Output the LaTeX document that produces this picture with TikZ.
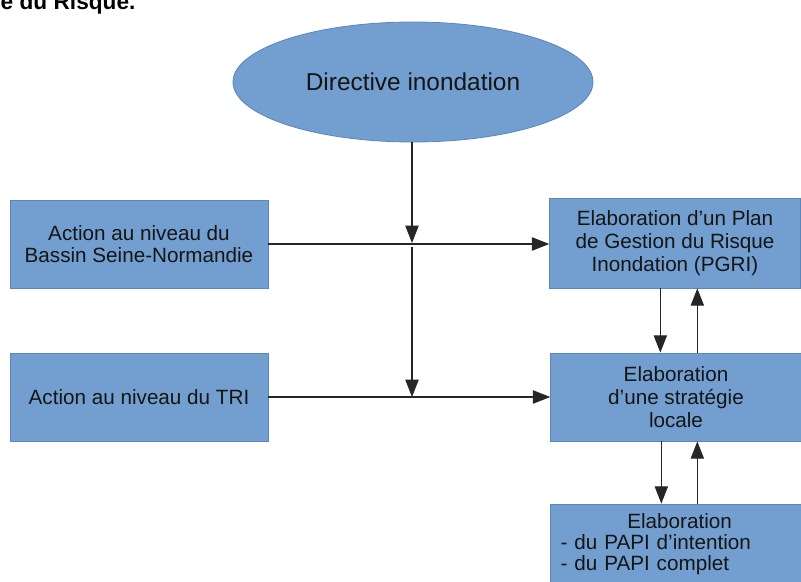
\documentclass[tikz,border=0pt]{standalone}
\usepackage{fontspec}
\setmainfont{Liberation Sans}
\usetikzlibrary{shapes.geometric,arrows.meta}
\definecolor{boxblue}{HTML}{729FCF}
\definecolor{boxline}{HTML}{5A86BE}
\definecolor{ink}{HTML}{151515}
\definecolor{wire}{HTML}{262626}
\begin{document}
\begin{tikzpicture}[x=0.75pt,y=-0.75pt,
    bloc/.style={rectangle,draw=boxline,line width=0.6pt,fill=boxblue,text=ink,
      font=\fontsize{15.5}{17}\selectfont,align=center,inner sep=0pt},
    fleche/.style={draw=wire,line width=0.8pt,-{Triangle[length=13pt,width=10pt]}},
    trait/.style={draw=wire,line width=0.8pt}]

        \useasboundingbox (0,0) rectangle (801,582);

        % titre coupe en haut
        \node[anchor=base west,text=black,font=\fontsize{17}{20}\selectfont\bfseries] (titre) at (-4,9) {e du Risque.};

        \node[ellipse,draw=boxline,line width=0.6pt,fill=boxblue,text=ink,inner sep=0pt,
              minimum width=270pt,minimum height=90pt,font=\fontsize{18.3}{20}\selectfont]
              (dir) at (413,82) {Directive inondation};

        \begin{scope}[every node/.style={bloc,minimum width=193.5pt,minimum height=66pt}]
          \node (bassin) at (139,244) {Action au niveau du\\Bassin Seine-Normandie};
          \node (tri)    at (139,397) {Action au niveau du TRI};
        \end{scope}

        \begin{scope}[every node/.style={bloc,minimum width=188pt}]
          \node[minimum height=67.5pt] (pgri)  at (675,243) {Elaboration d’un Plan\\de Gestion du Risque\\Inondation (PGRI)};
          \node[minimum height=66pt]   (strat) at (676,397) {Elaboration\\d’une stratégie\\locale};
          \node[minimum height=60pt,text width=173pt,align=left,inner xsep=7pt,
                font=\fontsize{15.5}{15.5}\selectfont]
                (papi) at (676,544) {\hspace*{50pt}Elaboration\\- du PAPI d’intention\\- du PAPI complet};
        \end{scope}

        \coordinate (j1) at (412,243);
        \coordinate (j2) at (412,397);

        \path[fleche] (dir.south -| j1) -- (j1);
        \path[fleche] ([yshift=-3pt]j1) -- (j2);
        \path[fleche] (bassin.east) -- (bassin.east -| pgri.west);
        \path[fleche] (tri.east) -- (tri.east -| strat.west);

        \path[fleche] ([xshift=-11pt]pgri.south) -- ([xshift=-11pt]pgri.south |- strat.north);
        \path[fleche] ([xshift=16pt]strat.north) -- ([xshift=16pt]strat.north |- pgri.south);
        \path[fleche] ([xshift=-11pt]strat.south) -- ([xshift=-11pt]strat.south |- papi.north);
        \path[fleche] ([xshift=16pt]papi.north) -- ([xshift=16pt]papi.north |- strat.south);

      \end{tikzpicture}
\end{document}
